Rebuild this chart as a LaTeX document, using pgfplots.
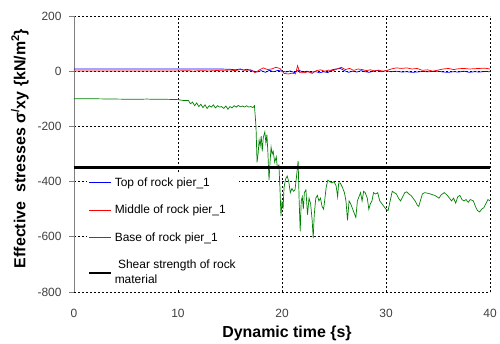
\documentclass[border=0pt]{standalone}
\usepackage{pgfplots}
\pgfplotsset{compat=1.18}
\usepackage{fontspec}
\setmainfont{Liberation Sans}
\definecolor{tickgray}{RGB}{64,64,64}
\definecolor{axgray}{RGB}{128,128,128}
\definecolor{ggreen}{RGB}{0,128,0}
\begin{document}
\begin{tikzpicture}
\useasboundingbox (-74bp,-52bp) rectangle (426bp,292bp);
\begin{axis}[
  scale only axis,
  width=416bp, height=276bp,
  xmin=0, xmax=40, ymin=-800, ymax=200,
  xtick={0,10,20,30,40},
  xticklabels={0,10,20,30,40},
  ytick={-800,-600,-400,-200,0,200},
  yticklabels={-800,-600,-400,-200,0,200},
  axis lines*=left,
  x axis line style={draw=none},
  y axis line style={axgray, line width=0.8bp},
  xtick style={draw=none},
  ytick style={axgray, line width=0.8bp},
  tick align=outside,
  major tick length=5bp,
  grid=major,
  major grid style={black, line width=0.6bp, dash pattern=on 2bp off 2bp},
  tick label style={font=\fontsize{12}{14}\selectfont, text=tickgray},
  xticklabel style={yshift=-9bp},
  yticklabel style={xshift=-4bp},
  xlabel={Dynamic time \{s\}},
  ylabel={Effective~ stresses σ\textsuperscript{/}xy \{kN/m\textsuperscript{2}\}},
  label style={font=\fontsize{16}{18}\bfseries},
  xlabel style={at={(ticklabel cs:0.512)}, anchor=north, yshift=-1bp},
  ylabel style={at={(axis description cs:-0.13,0.52)}, anchor=center, rotate=0},
  legend style={at={(axis cs:1.25,-366)}, anchor=north west, draw=none, fill=white,
    font=\fontsize{12}{15}\selectfont, row sep=13.5bp, inner xsep=1bp, inner ysep=3bp,
    nodes={align=left}},
  legend cell align=left,
  legend image code/.code={\draw[#1] (0bp,0bp) -- (22bp,0bp);},
  no markers,
]
\addplot[blue, line width=0.7bp] coordinates {
(0,8) (5,8) (10,8) (14,8) (15,7) (15.5,5) (16,8) (16.3,4) (16.6,7) (17,3) (17.3,0) (17.6,-3) (18,2) (18.4,-4) (18.8,3) (19.2,-2) (19.6,3) (20,0) (20.4,-3) (20.8,1) (21.2,-5) (21.6,4) (22,-3) (22.4,0) (22.8,-4) (23.2,-1) (23.6,-6) (24,-2) (24.4,-5) (24.8,5) (25.2,8) (25.6,10) (26,2) (26.4,-4) (26.8,0) (27.2,-3) (27.6,2) (28,-2) (28.4,-4) (28.8,0) (29.2,3) (29.6,-2) (30,2) (30.5,-2) (31,0) (31.5,-3) (32,-2) (32.5,-4) (33,-3) (33.5,-1) (34,-2) (34.5,-1) (35,0) (35.5,-3) (36,-4) (36.5,-2) (37,-3) (37.5,0) (38,-4) (38.5,-2) (39,-3) (39.5,-1) (40,-2)
};
\addlegendentry{Top of rock pier\_1}
\addplot[red, line width=0.7bp] coordinates {
(0,1) (5,1) (10,1) (11,2) (11.5,0) (12,2) (13,1) (14,3) (15,4) (15.5,2) (16,6) (16.5,3) (17,5) (17.4,-5) (17.8,4) (18.2,12) (18.6,6) (19,8) (19.4,14) (19.8,10) (20.2,-8) (20.6,-10) (21,-7) (21.3,-10) (21.5,20) (21.7,-5) (22.1,-6) (22.5,-2) (22.9,-8) (23.3,2) (23.7,5) (24.1,0) (24.5,4) (24.9,2) (25.3,8) (25.7,14) (26.1,6) (26.5,10) (26.9,3) (27.3,8) (27.7,6) (28.1,2) (28.5,5) (28.9,1) (29.3,4) (29.7,0) (30.1,3) (30.5,8) (31,12) (31.5,10) (32,12) (32.5,8) (33,10) (33.5,3) (34,5) (34.5,0) (35,4) (35.5,8) (36,10) (36.5,6) (37,9) (37.5,10) (38,8) (38.5,9) (39,10) (39.5,11) (40,8)
};
\addlegendentry{Middle of rock pier\_1}
\addplot[ggreen, line width=0.7bp] coordinates {
(0,-100) (2,-100) (4,-101) (6,-102) (7,-101) (8,-102) (9,-102) (10,-103) (10.5,-106) (11,-106) (11.2,-118) (11.4,-112) (11.6,-125) (11.8,-115) (12.0,-128) (12.2,-120) (12.4,-132) (12.6,-122) (12.8,-135) (13.0,-125) (13.2,-130) (13.4,-122) (13.6,-133) (13.8,-125) (14.0,-130) (14.2,-128) (14.4,-135) (14.6,-126) (14.8,-138) (15.0,-128) (15.2,-133) (15.4,-125) (15.6,-130) (15.8,-124) (16.0,-129) (16.2,-126) (16.4,-130) (16.6,-125) (16.8,-130) (17.0,-128) (17.2,-132) (17.35,-125) (17.5,-200) (17.6,-330) (17.7,-300) (17.8,-250) (17.9,-270) (18.0,-235) (18.1,-290) (18.2,-240) (18.35,-220) (18.45,-260) (18.55,-230) (18.65,-300) (18.75,-395) (18.85,-330) (18.95,-275) (19.05,-300) (19.15,-290) (19.3,-330) (19.45,-310) (19.55,-350) (19.7,-340) (19.8,-420) (19.9,-525) (20.0,-470) (20.1,-500) (20.2,-420) (20.35,-390) (20.5,-380) (20.65,-400) (20.8,-440) (20.95,-425) (21.1,-435) (21.25,-430) (21.4,-380) (21.55,-325) (21.65,-470) (21.75,-580) (21.85,-470) (21.95,-455) (22.05,-500) (22.15,-440) (22.3,-430) (22.45,-520) (22.6,-460) (22.75,-480) (22.9,-540) (23.0,-605) (23.1,-520) (23.25,-460) (23.4,-450) (23.55,-470) (23.7,-460) (23.85,-490) (24.0,-500) (24.1,-470) (24.25,-420) (24.4,-395) (24.6,-400) (24.8,-405) (25.0,-400) (25.2,-415) (25.35,-455) (25.45,-405) (25.6,-405) (25.8,-420) (26.0,-440) (26.15,-470) (26.3,-540) (26.45,-470) (26.6,-480) (26.8,-500) (27.0,-520) (27.1,-530) (27.25,-470) (27.4,-455) (27.55,-440) (27.7,-470) (27.85,-435) (28.0,-440) (28.2,-460) (28.35,-500) (28.5,-480) (28.65,-470) (28.8,-440) (29.0,-445) (29.2,-440) (29.4,-470) (29.6,-480) (29.8,-490) (30.0,-500) (30.2,-505) (30.4,-470) (30.6,-435) (30.8,-440) (31.0,-445) (31.2,-460) (31.4,-470) (31.6,-455) (31.8,-440) (32.0,-437) (32.2,-445) (32.4,-450) (32.6,-460) (32.8,-470) (33.0,-485) (33.15,-490) (33.3,-470) (33.5,-445) (33.7,-440) (34.0,-442) (34.3,-445) (34.5,-448) (34.7,-450) (34.9,-455) (35.1,-460) (35.3,-448) (35.6,-440) (35.9,-450) (36.1,-460) (36.3,-470) (36.5,-460) (36.7,-478) (36.9,-455) (37.1,-450) (37.3,-465) (37.5,-470) (37.7,-465) (37.9,-475) (38.1,-465) (38.4,-470) (38.6,-490) (38.8,-505) (39.0,-510) (39.2,-500) (39.4,-495) (39.6,-480) (39.8,-465) (40.0,-470)
};
\addlegendentry{Base of rock pier\_1}
\addplot[black, line width=2.6bp] coordinates {(0,-350) (40,-350)};
\addlegendentry{\ Shear strength of rock\\material}
\end{axis}
\end{tikzpicture}
\end{document}
